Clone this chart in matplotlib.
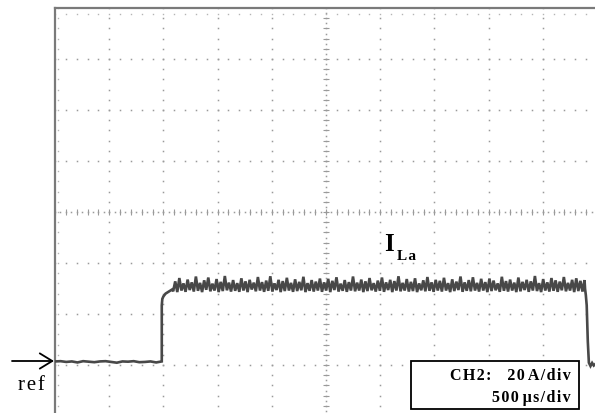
import numpy as np
import matplotlib
matplotlib.use("Agg")
import matplotlib.pyplot as plt
from matplotlib.patches import Rectangle

# ---------------- data (time in ms, current in A) ----------------
t_step = 0.985
t_high_start = 1.08
t_fall = 4.89

low_level = [0.0, 0.1, -0.2, 0.0, -0.4, 0.1, -0.1, -0.3, 0.0, 0.1,
             -0.2, -0.5, 0.0, -0.1, 0.1, -0.3, -0.2, 0.0, -0.4, 0.0]
rise_t = [0.985, 0.985, 0.99, 1.0, 1.02, 1.05, 1.08]
rise_i = [0.0, 22.0, 24.5, 25.5, 26.6, 27.4, 28.2]
high_level = [
    27.5, 31.4, 27.2, 32.7, 27.8, 30.6, 27.3, 32.1, 28.0, 31.0,
    27.4, 33.3, 27.7, 30.8, 27.2, 31.8, 28.1, 32.9, 27.5, 30.5,
    27.8, 32.3, 27.2, 31.2, 27.6, 33.5, 27.9, 30.9, 27.4, 31.9,
    27.7, 30.7, 27.3, 32.6, 27.8, 31.4, 27.2, 32.0, 28.2, 30.9,
    27.5, 33.1, 27.8, 31.1, 27.3, 31.7, 27.7, 33.4, 27.4, 30.6,
    28.0, 32.0, 27.2, 31.5, 27.6, 32.8, 27.8, 30.8, 27.3, 32.2,
    27.6, 31.2, 27.9, 33.2, 27.2, 30.7, 27.7, 31.9, 27.4, 31.3,
    27.8, 32.5, 27.3, 31.0, 27.8, 32.4, 27.2, 31.6, 28.0, 33.0,
    27.4, 30.5, 27.7, 31.9, 27.3, 31.1, 27.8, 33.3, 27.5, 30.9,
    27.8, 32.1, 27.2, 31.4, 27.6, 32.7, 27.9, 30.7, 27.4, 31.7,
    27.7, 32.9, 27.3, 31.0, 28.0, 32.0, 27.2, 31.5, 27.8, 33.4,
    27.5, 30.8, 27.8, 32.3, 27.4, 31.2, 27.6, 32.6, 27.2, 30.6,
    27.9, 31.8, 27.5, 33.1, 27.7, 31.0, 27.3, 32.0, 27.8, 31.6,
    27.4, 32.8, 27.8, 30.7, 27.2, 32.2, 27.6, 31.3, 28.0, 33.3,
    27.3, 31.0, 27.7, 31.9, 27.5, 33.0, 27.8, 30.8, 27.4, 32.4,
    27.8, 31.1, 27.2, 32.5, 27.6, 31.7, 27.9, 30.6, 27.3, 33.2,
    27.7, 31.5, 27.4, 32.1, 27.8, 30.9, 27.2, 32.9, 27.5, 31.2,
    28.0, 32.0, 27.3, 31.4, 27.8, 33.5, 27.6, 30.7, 27.2, 32.3,
    27.8, 31.0, 27.4, 32.7, 27.7, 31.8, 27.3, 31.3, 27.9, 33.1,
    27.5, 30.8, 27.8, 32.0, 27.2, 32.6, 27.6, 31.6, 27.4, 31.9,
]
fall_t = [4.89, 4.897, 4.905, 4.915, 4.925, 4.94, 4.955, 4.97, 4.985]
fall_i = [28.4, 26.0, 22.0, 8.0, -0.5, -1.8, -0.6, -1.6, -1.0]

hs = "\u200a"  # hair space for the wide letter spacing of the scope font
channel_label = hs.join("CH2:") + "\u2002\u2002" + hs.join("20") + " " + hs.join("A/div")
time_label = hs.join("500") + " " + "\u03bc" + hs + hs.join("s/div")
signal_label_main = "I"
signal_label_sub = hs.join("La")
ref_label = hs.join("ref")

# ---------------- scope geometry ----------------
W, H = 595, 414
ms_per_div = 0.5
amp_per_div = 20.0
n_xdiv, n_ydiv = 10, 8
y_bottom = -21.4
y_top = y_bottom + n_ydiv * amp_per_div

fig = plt.figure(figsize=(W / 100, H / 100), dpi=100)
fig.patch.set_facecolor("white")
ax_left, ax_right, ax_top, ax_bot = 55, 597, 9, 417
ax = fig.add_axes([ax_left / W, 1 - ax_bot / H, (ax_right - ax_left) / W,
                   (ax_bot - ax_top) / H])
ax.set_xlim(0, n_xdiv * ms_per_div)
ax.set_ylim(y_bottom, y_top)
ax.set_xticks([])
ax.set_yticks([])
for s in ["right", "bottom"]:
    ax.spines[s].set_visible(False)
for s in ["left", "top"]:
    ax.spines[s].set_color("#7a7a7a")
    ax.spines[s].set_linewidth(1.6)

dot_c = "#9a9a9a"
minor_x = np.arange(0, n_xdiv + 0.001, 0.2) * ms_per_div
minor_y = y_bottom + np.arange(0, n_ydiv + 0.001, 0.2) * amp_per_div
fine_x = np.arange(0, n_xdiv + 0.001, 0.1) * ms_per_div
fine_y = y_bottom + np.arange(0, n_ydiv + 0.001, 0.1) * amp_per_div

# regular dotted grid lines
for k in range(1, n_xdiv):
    if k == n_xdiv // 2:
        continue
    x = k * ms_per_div
    ax.plot(np.full_like(minor_y, x), minor_y, ls="none", marker="s",
            ms=1.1, mfc=dot_c, mec="none", zorder=1)
for k in range(1, n_ydiv):
    if k == n_ydiv // 2:
        continue
    y = y_bottom + k * amp_per_div
    ax.plot(minor_x, np.full_like(minor_x, y), ls="none", marker="s",
            ms=1.1, mfc=dot_c, mec="none", zorder=1)

# centre axes with finer dots and tick marks
xc = n_xdiv // 2 * ms_per_div
yc = y_bottom + n_ydiv // 2 * amp_per_div
ax.plot(np.full_like(fine_y, xc), fine_y, ls="none", marker="s", ms=1.1,
        mfc=dot_c, mec="none", zorder=1)
ax.plot(np.full_like(minor_y, xc), minor_y, ls="none", marker="_", ms=5,
        mew=0.8, color=dot_c, zorder=1)
ax.plot(fine_x, np.full_like(fine_x, yc), ls="none", marker="s", ms=1.1,
        mfc=dot_c, mec="none", zorder=1)
ax.plot(minor_x, np.full_like(minor_x, yc), ls="none", marker="|", ms=5,
        mew=0.8, color=dot_c, zorder=1)

# faint border ticks
edge_c = "#b5b5b5"
ax.plot(np.full_like(minor_y, 0.03), minor_y, ls="none", marker="s", ms=1.0,
        mfc=edge_c, mec="none", zorder=1)
ax.plot(minor_x, np.full_like(minor_x, y_top - 2.4), ls="none", marker="s",
        ms=1.0, mfc=edge_c, mec="none", zorder=1)

# ---------------- waveform ----------------
t_low = np.linspace(0, t_step, len(low_level))
t_high = np.linspace(t_high_start + 0.01, t_fall - 0.005, len(high_level))
t_all = np.concatenate([t_low, rise_t, t_high, fall_t])
i_all = np.concatenate([low_level, rise_i, high_level, fall_i])
ax.plot(t_all, i_all, color="#484848", lw=1.9, zorder=3,
        solid_joinstyle="miter")

# ---------------- annotations ----------------
def fx(px):
    return px / W

def fy(py):
    return 1 - py / H

serif = ["Liberation Serif", "DejaVu Serif"]
fig.text(fx(384), fy(251), signal_label_main, family=serif, weight="bold",
         fontsize=18, ha="left", va="baseline")
fig.text(fx(397), fy(260), signal_label_sub, family=serif, weight="bold",
         fontsize=11, ha="left", va="baseline")

box = Rectangle((fx(411), fy(410)), fx(579) - fx(411), fy(362) - fy(410),
                transform=fig.transFigure, facecolor="white",
                edgecolor="black", lw=1.3, zorder=5)
fig.patches.append(box)
fig.text(fx(571), fy(380), channel_label, family=serif, weight="bold",
         fontsize=11.5, ha="right", va="baseline", zorder=6)
fig.text(fx(571), fy(402), time_label, family=serif, weight="bold",
         fontsize=11.5, ha="right", va="baseline", zorder=6)

ax.annotate("", xy=(fx(54), fy(362)), xytext=(fx(12), fy(362)),
            xycoords="figure fraction", textcoords="figure fraction",
            arrowprops=dict(arrowstyle="->,head_length=0.9,head_width=0.55",
                            color="black", lw=1.3, shrinkA=0, shrinkB=0),
            annotation_clip=False)
fig.text(fx(18), fy(390), ref_label, family=serif, fontsize=15,
         ha="left", va="baseline")

fig.savefig("out.png", dpi=100, facecolor="white")
